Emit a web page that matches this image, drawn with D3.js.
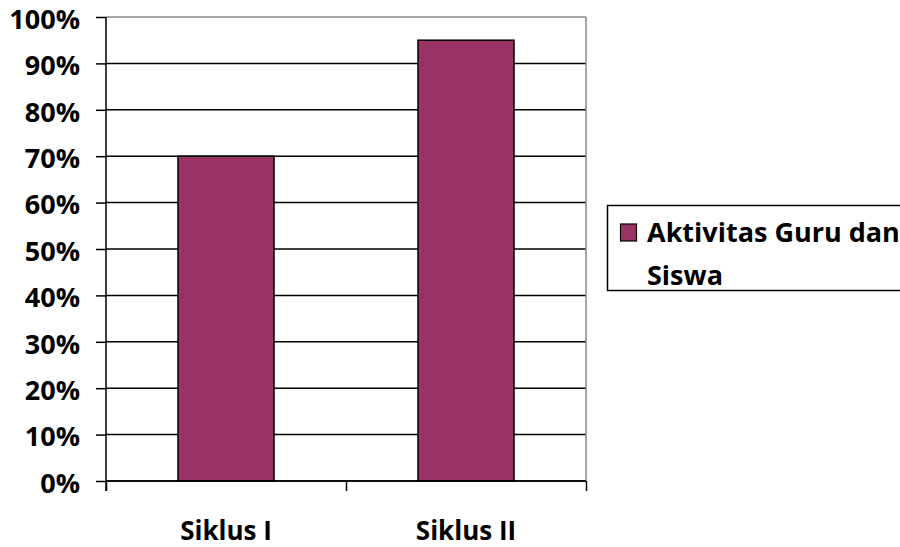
<!DOCTYPE html>
<html>
<head>
<meta charset="utf-8">
<script src="https://cdn.jsdelivr.net/npm/d3@7"></script>
<style>
  body { margin: 0; background: #fff; overflow: hidden; }
  svg { display: block; }
  text { font-family: "Open Sans", sans-serif; font-weight: bold; fill: #000; }
</style>
</head>
<body>
<svg class="chart"></svg>
<script>
// data
var categories = ['Siklus I', 'Siklus II'];
var values = [70, 95];
var seriesName = ['Aktivitas Guru dan', 'Siswa'];
var yTicks = [0, 10, 20, 30, 40, 50, 60, 70, 80, 90, 100];

var width = 900,
    height = 547;

// plot area
var pLeft = 106, pRight = 586, pTop = 17, pBottom = 481;

var svg = d3.select(".chart")
    .attr("width", width)
    .attr("height", height);

var x = d3.scaleBand()
    .domain(categories)
    .range([pLeft, pRight])
    .paddingInner(0.6)
    .paddingOuter(0.3);

var y = d3.scaleLinear()
    .domain([0, 100])
    .range([pBottom, pTop]);

//gridlines
svg.selectAll(".grid")
    .data(yTicks)
    .enter().append("line")
    .attr("x1", pLeft)
    .attr("x2", pRight)
    .attr("y1", function(d) { return y(d); })
    .attr("y2", function(d) { return y(d); })
    .style("stroke", function(d) { return d == 100 ? "#888" : "#000"; })
    .style("stroke-width", 1.5);

//right border of plot area
svg.append("line")
    .attr("x1", pRight).attr("x2", pRight)
    .attr("y1", pTop).attr("y2", pBottom)
    .style("stroke", "#888")
    .style("stroke-width", 1.5);

//bars
svg.selectAll(".bar")
    .data(values)
    .enter().append("rect")
    .attr("x", function(d, i) { return x(categories[i]); })
    .attr("y", function(d) { return y(d); })
    .attr("width", x.bandwidth())
    .attr("height", function(d) { return y(0) - y(d); })
    .style("fill", "#993366")
    .style("stroke", "#000")
    .style("stroke-width", 1.5);

//y axis
var yAxis = svg.append("g")
    .attr("transform", "translate(" + pLeft + ",0)")
    .call(d3.axisLeft(y).tickValues(yTicks).tickSize(10).tickPadding(16)
      .tickFormat(function(d) { return d + "%"; }));
yAxis.select(".domain").attr("d", "M0," + pTop + "V" + (pBottom + 10));
yAxis.selectAll("line, path").style("stroke", "#000").style("stroke-width", 1.5);
yAxis.selectAll("text")
    .attr("dy", "0.42em")
    .style("font-size", "27px")
    .style("font-family", "'Open Sans', sans-serif")
    .style("fill", "#000");

//x axis: tick marks at category boundaries
var xb = d3.scaleLinear().domain([0, categories.length]).range([pLeft, pRight]);
svg.append("g")
    .attr("transform", "translate(0," + pBottom + ")")
    .call(d3.axisBottom(xb).ticks(categories.length).tickSize(10).tickFormat(""))
    .call(function(g) {
      g.select(".domain").remove();
      g.selectAll("line").style("stroke", "#000").style("stroke-width", 1.5);
    });
svg.append("line")
    .attr("x1", pLeft).attr("x2", pRight)
    .attr("y1", pBottom).attr("y2", pBottom)
    .style("stroke", "#000").style("stroke-width", 1.5);

//category labels
svg.selectAll(".cat")
    .data(categories)
    .enter().append("text")
    .attr("x", function(d) { return x(d) + x.bandwidth() / 2; })
    .attr("y", 540)
    .attr("text-anchor", "middle")
    .style("font-size", "26px")
    .text(function(d) { return d; });

//legend
var legend = svg.append("g");
legend.append("rect")
    .attr("x", 607.5).attr("y", 205.5)
    .attr("width", 320).attr("height", 85)
    .style("fill", "#fff")
    .style("stroke", "#000")
    .style("stroke-width", 1.5);
legend.append("rect")
    .attr("x", 620.5).attr("y", 224)
    .attr("width", 16).attr("height", 17)
    .style("fill", "#993366")
    .style("stroke", "#000")
    .style("stroke-width", 1.2);
legend.selectAll(".lt")
    .data(seriesName)
    .enter().append("text")
    .attr("x", 647)
    .attr("y", function(d, i) { return 242 + i * 43; })
    .style("font-size", "27px")
    .text(function(d) { return d; });
</script>
</body>
</html>
